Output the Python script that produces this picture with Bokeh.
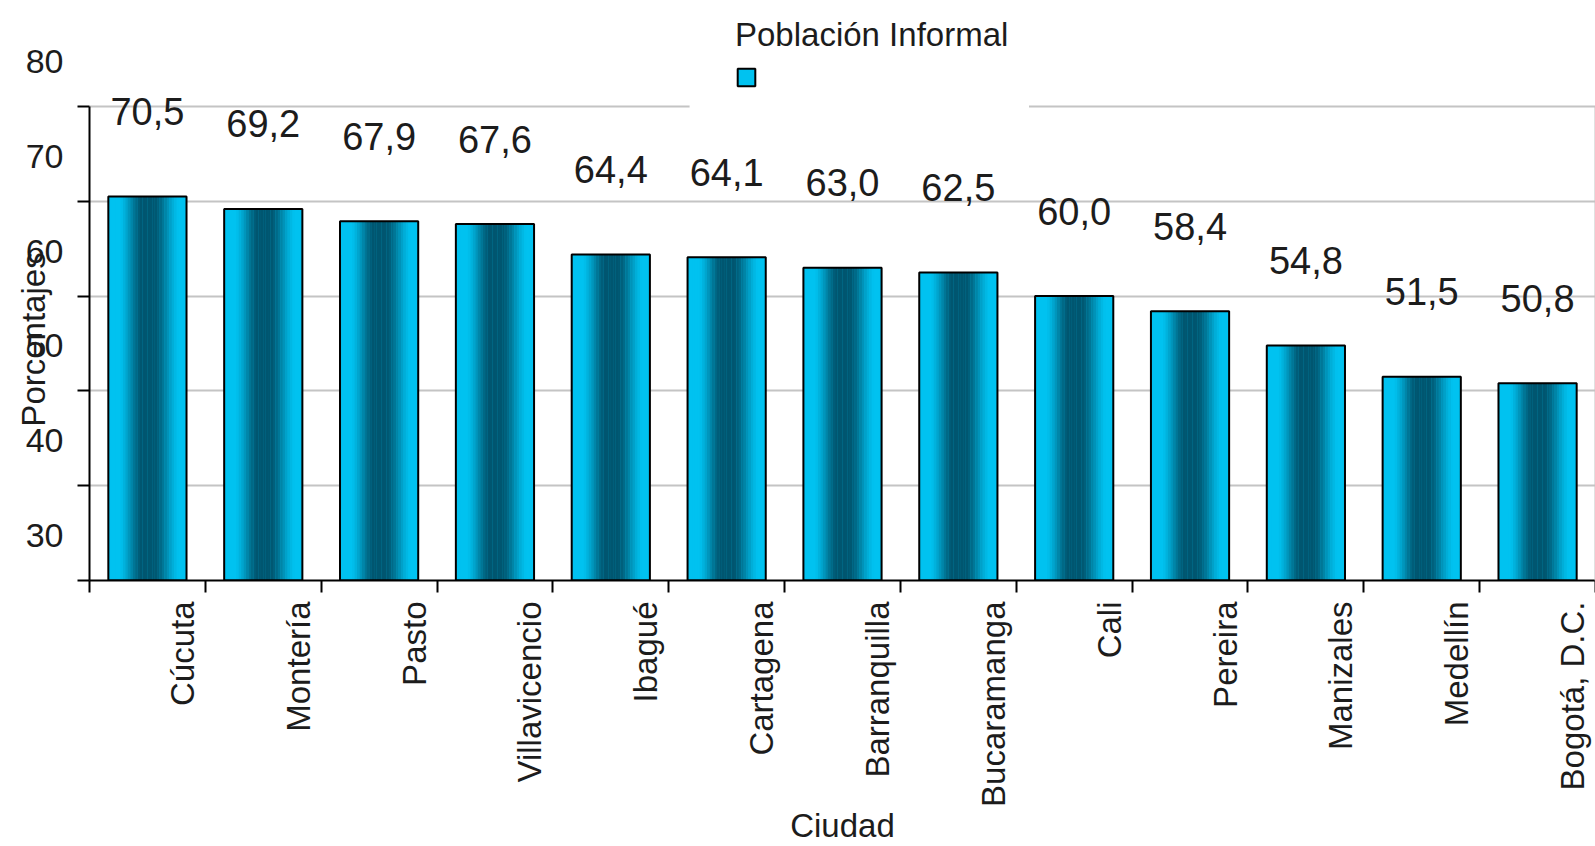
import math
from bokeh.plotting import figure
from bokeh.models import (ColumnDataSource, FactorRange, Range1d, LinearAxis, FixedTicker,
                          Legend, LegendItem, BoxAnnotation)
from bokeh.transform import dodge
from bokeh.core.properties import value
from bokeh.embed import file_html
from bokeh.resources import INLINE

# ---------------- data ----------------
cities = ["Cúcuta", "Montería", "Pasto", "Villavicencio", "Ibagué", "Cartagena",
          "Barranquilla", "Bucaramanga", "Cali", "Pereira", "Manizales", "Medellín",
          "Bogotá, D.C."]
informal = [70.5, 69.2, 67.9, 67.6, 64.4, 64.1, 63.0, 62.5, 60.0, 58.4, 54.8, 51.5, 50.8]
value_labels = ["70,5", "69,2", "67,9", "67,6", "64,4", "64,1", "63,0", "62,5",
                "60,0", "58,4", "54,8", "51,5", "50,8"]
y_ticks = [30, 40, 50, 60, 70, 80]
y_tick_labels = ["30", "40", "50", "60", "70", "80"]
series_name = "Población Informal"
x_title = "Ciudad"
y_title = "Porcentajes"

# ---------------- style ----------------
FONT = "Liberation Sans"
TXT = "#1c1c1c"
GRID = "#c4c4c4"
LIGHT = (0, 194, 240)
DARK = (0, 86, 112)
BAR_W = 0.675
N_SLICES = 32
Y_TOP = 91.18          # frame extends above the 80 line (room for legend / labels)


def shade(t):
    if t < 0.15 or t > 0.90:
        d = 0.0
    elif t < 0.42:
        d = (t - 0.15) / 0.27
    elif t < 0.60:
        d = 1.0
    else:
        d = 1.0 - (t - 0.60) / 0.30
    d = 0.5 * d + 0.5 * (1.0 - math.cos(math.pi * d)) / 2.0
    r, g, b = (round(LIGHT[i] + (DARK[i] - LIGHT[i]) * d) for i in range(3))
    return "#%02x%02x%02x" % (r, g, b)


src = ColumnDataSource(dict(city=cities, value=informal, label=value_labels))
tick_src = ColumnDataSource(dict(y=y_ticks, text=y_tick_labels,
                                 cat=[cities[0]] * len(y_ticks)))
title_src = ColumnDataSource(dict(cat=[cities[0]], text=[y_title],
                                  y=[(y_ticks[0] + y_ticks[-1]) / 2]))

p = figure(x_range=FactorRange(factors=cities), y_range=Range1d(y_ticks[0], Y_TOP),
           width=1595, height=846, output_backend="svg", toolbar_location=None,
           x_axis_location=None, min_border_left=89, min_border_top=0,
           min_border_right=0, min_border_bottom=0)
p.outline_line_color = None
p.background_fill_color = "white"
p.border_fill_color = "white"
p.xgrid.visible = False


def style_axis(ax, color="black"):
    ax.axis_line_width = 2
    ax.axis_line_color = color
    ax.major_tick_line_width = 2
    ax.major_tick_line_color = color
    ax.major_tick_in = 0
    ax.minor_tick_out = 0
    ax.minor_tick_in = 0
    ax.major_label_standoff = 0
    ax.axis_label_text_font = FONT
    ax.axis_label_text_font_size = "33px"
    ax.axis_label_text_font_style = "normal"
    ax.axis_label_text_color = TXT


# y axis (its labels are drawn shifted, as in the original)
ya = p.yaxis[0]
ya.ticker = FixedTicker(ticks=y_ticks)
ya.bounds = (y_ticks[0], y_ticks[-1])
ya.major_label_overrides = {t: "" for t in y_ticks}
style_axis(ya)
ya.major_tick_out = 12

p.ygrid.ticker = FixedTicker(ticks=y_ticks)
p.ygrid.grid_line_color = GRID
p.ygrid.grid_line_width = 2

# right border of the plot area
ra = LinearAxis(ticker=FixedTicker(ticks=[]), bounds=(y_ticks[0], y_ticks[-1]))
style_axis(ra, GRID)
ra.major_tick_out = 0
p.add_layout(ra, "right")

# x axis with ticks at the category boundaries
bounds_ticks = list(range(len(cities) + 1))
xa = LinearAxis(ticker=FixedTicker(ticks=bounds_ticks))
xa.major_label_overrides = {t: "" for t in bounds_ticks}
style_axis(xa)
xa.major_tick_out = 12
xa.major_label_text_font_size = "10px"
xa.axis_label = x_title
xa.axis_label_standoff = 214
p.add_layout(xa, "below")

# bars: base fill, gradient slices, outline
base = p.vbar(x="city", top="value", bottom=y_ticks[0], width=BAR_W, source=src,
              fill_color="#%02x%02x%02x" % LIGHT, line_color=None)
for k in range(N_SLICES):
    t = (k + 0.5) / N_SLICES
    off = -BAR_W / 2 + t * BAR_W
    p.vbar(x=dodge("city", off, range=p.x_range), top="value", bottom=y_ticks[0],
           width=BAR_W / N_SLICES * 1.1, source=src, fill_color=shade(t), line_color=None)
outline = p.vbar(x="city", top="value", bottom=y_ticks[0], width=BAR_W, source=src,
                 fill_color=None, line_color="black", line_width=2)

# value labels (floating above the bars)
p.text(x="city", y="value", text="label", source=src, y_offset=-85,
       text_align="center", text_baseline="middle",
       text_font=value(FONT), text_font_size="38px", text_color=TXT, level="overlay")

# category labels (rotated, shifted right)
p.text(x="city", y=y_ticks[0], text="city", source=src,
       x_offset=35, y_offset=21, angle=math.pi / 2,
       text_align="right", text_baseline="middle",
       text_font=value(FONT), text_font_size="33px", text_color=TXT, level="overlay")

# y tick labels (shifted upward as in the original)
p.text(x=dodge("cat", -0.5, range=p.x_range), y="y", text="text", source=tick_src,
       x_offset=-26, y_offset=-45, text_align="right", text_baseline="middle",
       text_font=value(FONT), text_font_size="34px", text_color=TXT, level="overlay")

# y axis title
p.text(x=dodge("cat", -0.5, range=p.x_range), y="y", text="text", source=title_src,
       x_offset=-56, y_offset=-4, angle=math.pi / 2, text_align="center",
       text_baseline="middle", text_font=value(FONT), text_font_size="33px",
       text_color=TXT, level="overlay")

# white legend box interrupting the top line (as in the original)
p.add_layout(BoxAnnotation(left=5.18, right=8.11, bottom=79.6, top=80.4,
                           fill_color="white", fill_alpha=1.0, line_color=None))

legend = Legend(items=[LegendItem(label="", renderers=[base, outline])],
                title=series_name, location=(646, 492),
                title_text_font=FONT, title_text_font_size="33px",
                title_text_font_style="normal", title_text_color=TXT,
                title_standoff=12, padding=23, spacing=0, margin=0,
                glyph_width=22, glyph_height=22, label_standoff=0,
                label_text_font_size="10px",
                border_line_color=None, background_fill_color="white",
                background_fill_alpha=1.0)
p.add_layout(legend)

open("out.html", "w").write(file_html(p, INLINE))
